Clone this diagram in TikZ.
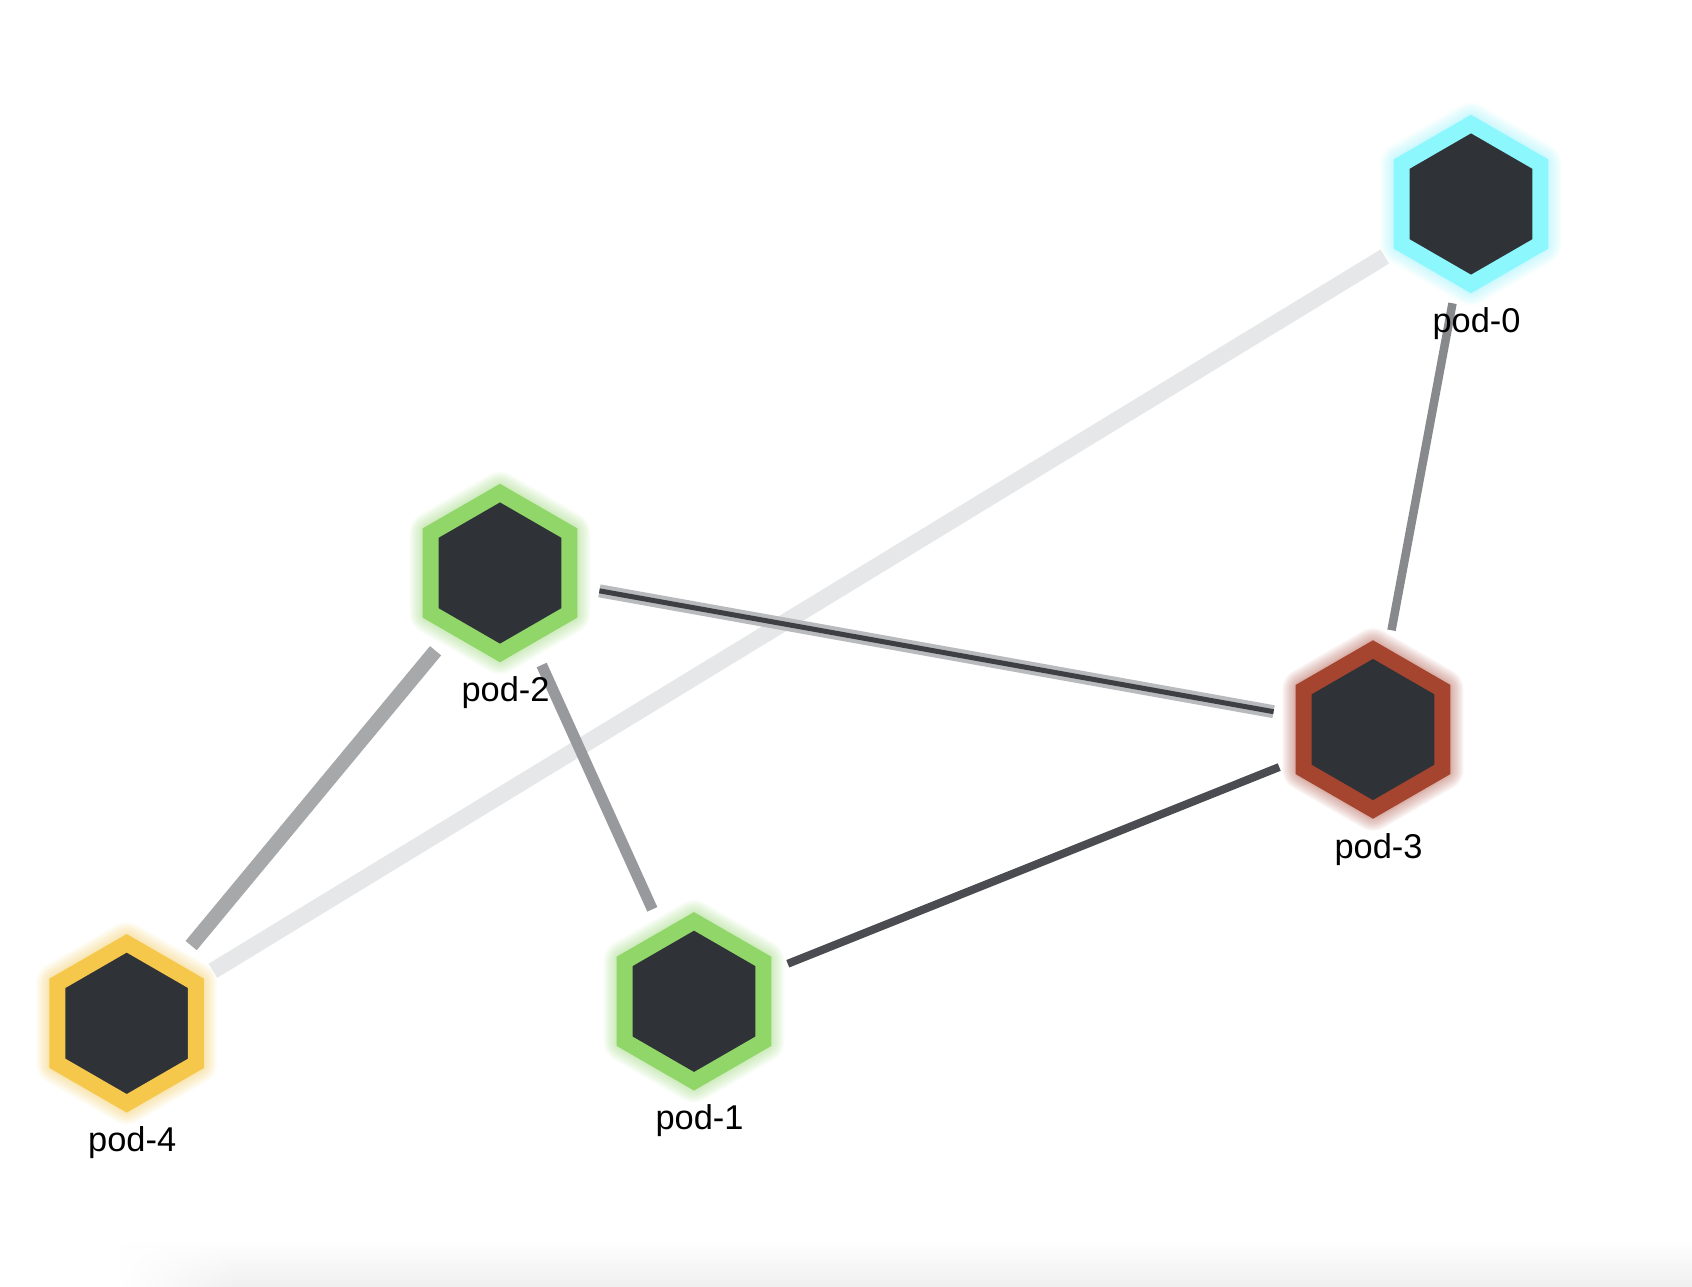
\documentclass[tikz,border=0pt]{standalone}
\usepackage{fontspec}
\setmainfont{Liberation Sans}
\usetikzlibrary{fadings}
\definecolor{hexfill}{HTML}{2F3237}
\definecolor{cyanc}{HTML}{8CF8FD}
\definecolor{greenc}{HTML}{91D668}
\definecolor{redc}{HTML}{A6452F}
\definecolor{yellowc}{HTML}{F5C84B}
\definecolor{eA}{HTML}{E6E7E8}
\definecolor{eB}{HTML}{A7A8AA}
\definecolor{eC}{HTML}{98999C}
\definecolor{eD}{HTML}{88898C}
\definecolor{eE}{HTML}{4A4C52}
\definecolor{eFo}{HTML}{B9BABD}
\definecolor{eFi}{HTML}{3D3F45}
\tikzfading[name=fadeleft, left color=transparent!100, right color=transparent!0]
\begin{document}
\begin{tikzpicture}[x=0.5pt, y=-0.5pt,
  podc/.style={circle, minimum size=101pt, inner sep=0pt, outer sep=0pt},
  hexring/.style={draw=#1, line width=8pt, fill=hexfill, line join=miter},
  glowring/.style={draw=#1, line join=round, draw opacity=0.07},
  lbl/.style={anchor=base, font=\fontsize{17.2}{20}\selectfont, text=black, inner sep=0pt},
  edgeA/.style={draw=eA, line width=8.25pt},
  edgeB/.style={draw=eB, line width=7.25pt},
  edgeC/.style={draw=eC, line width=5.5pt},
  edgeD/.style={draw=eD, line width=4.25pt},
  edgeE/.style={draw=eE, line width=4pt},
  edgeF/.style={draw=eFo, line width=2pt, double=eFi, double distance=2.5pt}
]
\useasboundingbox (0,0) rectangle (1692,1286);
\fill[white] (0,0) rectangle (1692,1286);
% faint bottom shadow
\shade[top color=white, bottom color=black!6] (240,1240) rectangle (1692,1286);
\shade[top color=white, bottom color=black!6, path fading=fadeleft] (120,1240) rectangle (240,1286);

% invisible pod nodes (edge ends lie on their border)
\node[podc] (p0) at (1471,204) {};
\node[podc] (p1) at (694,1001.3) {};
\node[podc] (p2) at (500,573) {};
\node[podc] (p3) at (1373,729.5) {};
\node[podc] (p4) at (126.7,1023.3) {};

% connectors
\draw[edgeA] (p0) -- (p4);
\draw[edgeB] (p2) -- (p4);
\draw[edgeC] (p2) -- (p1);
\draw[edgeD] (p0) -- (p3);
\draw[edgeE] (p3) -- (p1);
\draw[edgeF] (p2) -- (p3);

% hexagons with glow
\foreach \n/\c in {p0/cyanc, p1/greenc, p2/greenc, p3/redc, p4/yellowc}{
  \foreach \w in {21,19,17,15,13,11,9.5}{
    \draw[glowring=\c, line width=\w pt] (\n.center) +(90:40pt) -- +(150:40pt) -- +(210:40pt) -- +(270:40pt) -- +(330:40pt) -- +(30:40pt) -- cycle;
  }
  \draw[hexring=\c] (\n.center) +(90:40pt) -- +(150:40pt) -- +(210:40pt) -- +(270:40pt) -- +(330:40pt) -- +(30:40pt) -- cycle;
}

% labels
\node[lbl] (l0) at (1476.5,332.5) {pod-0};
\node[lbl] (l1) at (699.5,1129.8) {pod-1};
\node[lbl] (l2) at (505.5,701.5) {pod-2};
\node[lbl] (l3) at (1378.5,858) {pod-3};
\node[lbl] (l4) at (132.2,1151.8) {pod-4};
\end{tikzpicture}
\end{document}
